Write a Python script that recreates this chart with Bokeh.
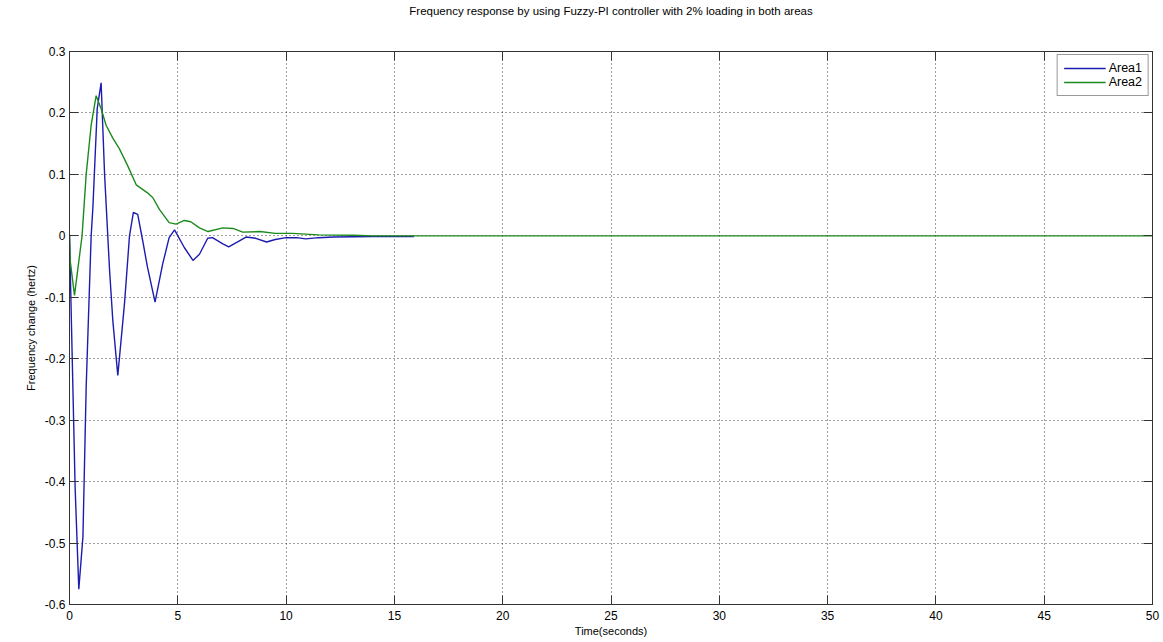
from bokeh.plotting import figure
from bokeh.models import (Range1d, FixedTicker, LinearAxis, Legend, LegendItem)
from bokeh.embed import file_html
from bokeh.resources import INLINE

# Area 1 frequency deviation (Hz) versus time (s)
t_area1 = [0, 0.12, 0.26, 0.43, 0.62, 0.77, 1.0, 1.08, 1.28, 1.46, 1.62, 1.85, 2.0,
           2.23, 2.54, 2.77, 2.95, 3.15, 3.38, 3.6, 3.95, 4.3, 4.6, 4.85, 5.3,
           5.7, 6.0, 6.38, 6.6, 7.08, 7.35, 7.7, 8.15, 8.6, 9.1, 9.5, 10.0,
           10.5, 10.9, 11.5, 12.2, 14.0, 15.9]
f_area1 = [0, -0.19, -0.41, -0.575, -0.49, -0.246, 0.0, 0.046, 0.207, 0.249, 0.10,
           -0.056, -0.138, -0.227, -0.11, 0.0, 0.038, 0.035, -0.008, -0.051,
           -0.108, -0.046, -0.003, 0.0097, -0.019, -0.040, -0.03, -0.004,
           -0.003, -0.013, -0.018, -0.011, -0.002, -0.004, -0.010, -0.006,
           -0.003, -0.003, -0.005, -0.003, -0.002, -0.001, -0.001]

# Area 2 frequency deviation (Hz) versus time (s)
t_area2 = [0, 0.03, 0.23, 0.58, 0.77, 1.0, 1.23, 1.46, 1.69, 2.0, 2.3, 2.7, 3.08,
           3.6, 3.85, 4.15, 4.6, 4.92, 5.3, 5.6, 6.0, 6.4, 7.08, 7.55, 8.0,
           8.8, 9.5, 10.3, 11.5, 13.1, 14.0, 50.0]
f_area2 = [0, -0.04, -0.097, 0.0, 0.10, 0.18, 0.228, 0.207, 0.18, 0.159, 0.142,
           0.113, 0.083, 0.07, 0.062, 0.043, 0.0215, 0.019, 0.025, 0.023, 0.013,
           0.007, 0.013, 0.012, 0.006, 0.007, 0.004, 0.004, 0.0015, 0.001, 0.0,
           0.0]

x_ticks = [0, 5, 10, 15, 20, 25, 30, 35, 40, 45, 50]
y_ticks = [-0.6, -0.5, -0.4, -0.3, -0.2, -0.1, 0, 0.1, 0.2, 0.3]
y_tick_labels = ["-0.6", "-0.5", "-0.4", "-0.3", "-0.2", "-0.1", "0", "0.1", "0.2", "0.3"]

FONT = "Liberation Sans"

p = figure(width=1163, height=642, output_backend="svg", toolbar_location=None,
           x_range=Range1d(0, 50), y_range=Range1d(-0.6, 0.3),
           min_border_left=69, min_border_right=11, min_border_top=50,
           min_border_bottom=38,
           title="Frequency response by using Fuzzy-PI controller with 2% loading in both areas")

p.background_fill_color = "white"
p.border_fill_color = "white"
p.outline_line_color = "#333333"
p.outline_line_width = 1

p.title.align = "center"
p.title.text_font = FONT
p.title.text_font_size = "11.5px"
p.title.text_font_style = "normal"
p.title.text_color = "#000000"
p.title.standoff = 4

# main axes: ticks pointing inward, MATLAB style
for ax, ticks in ((p.xaxis[0], x_ticks), (p.yaxis[0], y_ticks)):
    ax.ticker = FixedTicker(ticks=ticks)
    ax.major_tick_in = 9
    ax.major_tick_out = 0
    ax.minor_tick_line_color = None
    ax.axis_line_color = "#333333"
    ax.major_tick_line_color = "#333333"
    ax.major_label_text_font = FONT
    ax.major_label_text_font_size = "12px"
    ax.major_label_text_color = "#000000"
    ax.axis_label_text_font = FONT
    ax.axis_label_text_font_size = "11px"
    ax.axis_label_text_font_style = "normal"
    ax.axis_label_text_color = "#000000"

p.yaxis[0].major_label_overrides = {v: s for v, s in zip(y_ticks, y_tick_labels)}
p.xaxis[0].axis_label = "Time(seconds)"
p.yaxis[0].axis_label = "Frequency change (hertz)"
p.xaxis[0].major_label_standoff = 6
p.xaxis[0].axis_label_standoff = 2
p.yaxis[0].major_label_standoff = 4
p.yaxis[0].axis_label_standoff = 5

# box axes on top and right with ticks only
top = LinearAxis(ticker=FixedTicker(ticks=x_ticks))
right = LinearAxis(ticker=FixedTicker(ticks=y_ticks))
top.major_label_overrides = {v: "" for v in x_ticks}
right.major_label_overrides = {v: "" for v in y_ticks}
for ax in (top, right):
    ax.major_tick_in = 9
    ax.major_tick_out = 0
    ax.minor_tick_line_color = None
    ax.axis_line_color = "#333333"
    ax.major_tick_line_color = "#333333"
    ax.major_label_standoff = 0
p.add_layout(top, "above")

# blank spacer axis that lifts the title clear of the frame
spacer = LinearAxis(ticker=FixedTicker(ticks=[25]))
spacer.major_label_overrides = {25: " "}
spacer.major_label_text_font_size = "26px"
spacer.major_label_standoff = 0
spacer.major_tick_in = 0
spacer.major_tick_out = 0
spacer.major_tick_line_color = None
spacer.minor_tick_line_color = None
spacer.axis_line_color = None
p.add_layout(spacer, "above")
p.add_layout(right, "right")

# dotted grid
for g in (p.xgrid[0], p.ygrid[0]):
    g.grid_line_color = "#000000"
    g.grid_line_alpha = 0.75
    g.grid_line_dash = "1 3"
    g.grid_line_width = 1
p.xgrid[0].ticker = FixedTicker(ticks=x_ticks)
p.ygrid[0].ticker = FixedTicker(ticks=y_ticks)

r1 = p.line(t_area1, f_area1, line_color="#1c1cb0", line_width=1.4)
r2 = p.line(t_area2, f_area2, line_color="#1d8a1d", line_width=1.4)

legend = Legend(items=[LegendItem(label="Area1", renderers=[r1]),
                       LegendItem(label="Area2", renderers=[r2])],
                location="top_right")
legend.label_text_font = FONT
legend.label_text_font_size = "12.5px"
legend.label_text_color = "#000000"
legend.glyph_width = 42
legend.glyph_height = 14
legend.label_height = 14
legend.label_standoff = 3
legend.spacing = 0
legend.padding = 6
legend.margin = 3
legend.border_line_color = "#333333"
legend.border_line_width = 1
legend.background_fill_color = "white"
p.add_layout(legend)

open("out.html", "w").write(file_html(p, INLINE))
